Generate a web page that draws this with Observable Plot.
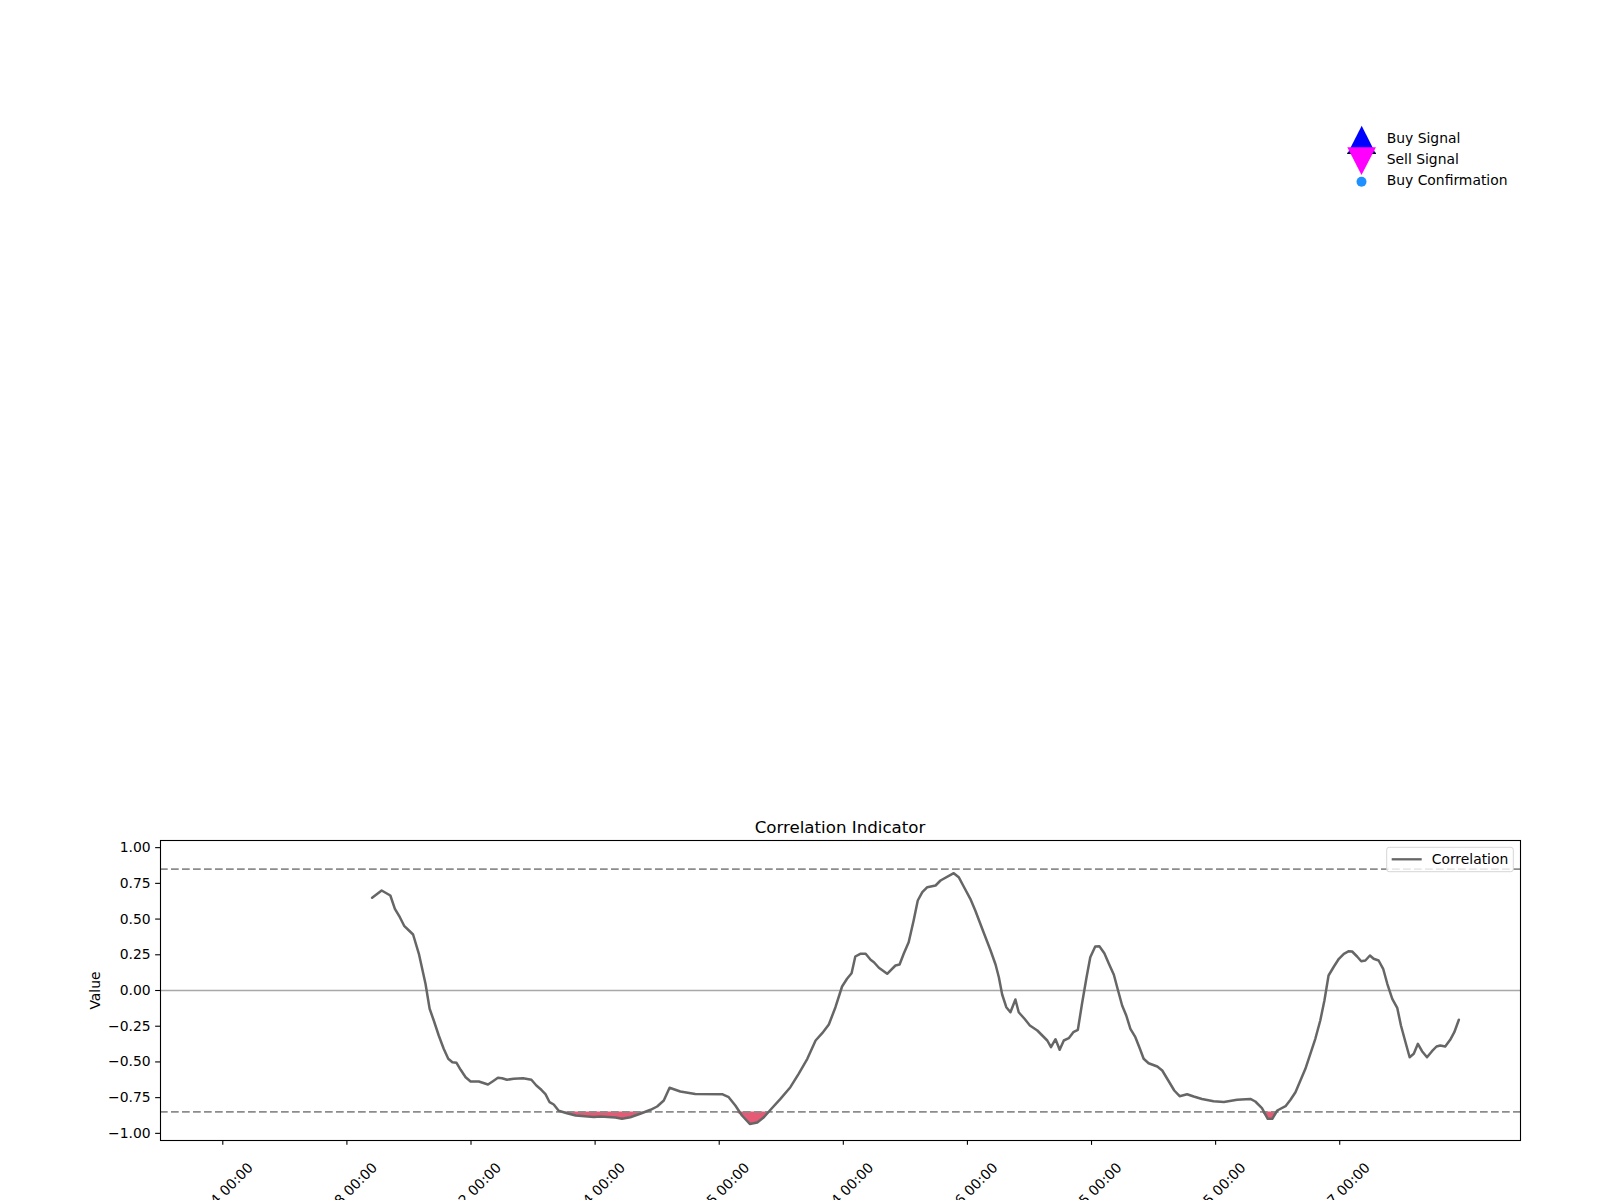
<!DOCTYPE html>
<html>
<head>
<meta charset="utf-8">
<script src="https://cdn.jsdelivr.net/npm/d3@7"></script>
<script src="https://cdn.jsdelivr.net/npm/@observablehq/plot@0.6"></script>
<style>
  html, body { margin: 0; padding: 0; overflow: hidden; background: white; }
  #fig { position: relative; width: 1600px; height: 1200px; overflow: hidden; background: white; font-family: "DejaVu Sans", sans-serif; }
  #chart { position: absolute; left: 0; top: 800px; width: 1600px; height: 400px; overflow: hidden; }
  #title { position: absolute; left: 0; width: 1680px; top: 817.5px; text-align: center; font-size: 16.67px; line-height: 20px; color: black; }
  #overlay { position: absolute; left: 0; top: 0; pointer-events: none; }
</style>
</head>
<body>
<div id="fig">
  <div id="chart"></div>
  <div id="title">Correlation Indicator</div>
  <svg id="overlay" width="1600" height="1200"></svg>
</div>
<script>
// ---- data ----
const barIndex = [
  36.1, 38.4, 40.5, 41.6, 42.8, 43.9, 45.0, 46.0, 47.4, 49.0, 50.0, 51.0, 52.2, 53.4, 54.5, 55.5, 56.5, 57.5, 58.7, 59.9,
  61.9, 64.1, 65.3, 66.5, 67.5, 68.7, 70.3, 72.6, 74.6, 75.8, 77.0, 78.0, 79.0, 80.0, 81.2, 83.2, 85.3, 89.7, 91.3, 94.9,
  96.5, 98.5, 100.9, 103.4, 105.0, 106.6, 108.0, 110.6, 114.2, 120.7, 122.3, 123.9, 125.5, 127.4, 129.2, 130.8, 132.4, 134.8, 137.2, 139.2,
  141.3, 143.3, 144.9, 146.5, 148.1, 149.7, 150.9, 152.0, 152.9, 154.1, 155.4, 156.6, 157.4, 158.6, 160.6, 162.6, 163.6, 164.6, 165.8, 167.0,
  168.0, 169.1, 170.3, 172.3, 173.5, 176.7, 177.9, 179.1, 180.7, 181.9, 183.9, 185.6, 186.8, 187.6, 188.4, 189.4, 190.4, 191.6, 192.4, 193.8,
  195.1, 196.9, 198.1, 199.3, 200.2, 201.3, 202.3, 203.3, 204.5, 205.6, 206.7, 207.7, 208.8, 209.7, 210.9, 211.9, 213.1, 214.2, 215.4, 216.3,
  217.4, 218.4, 219.4, 220.6, 221.7, 222.6, 223.8, 225.9, 227.1, 228.7, 230.0, 231.3, 233.1, 234.7, 236.7, 239.5, 242.0, 245.2, 248.4, 249.6,
  251.2, 252.6, 253.7, 254.9, 256.9, 258.1, 259.3, 260.5, 261.7, 262.9, 264.1, 265.3, 266.3, 267.3, 268.6, 269.8, 271.0, 272.2, 273.0, 274.2,
  275.2, 276.2, 277.3, 278.2, 279.4, 280.5, 281.5, 282.7, 283.9, 284.8, 285.9, 286.9, 287.9, 288.9, 289.9, 291.1, 292.3, 293.4, 294.3, 295.5,
  296.7, 297.7, 298.8
];
const correlation = [
  0.649, 0.70, 0.665, 0.572, 0.513, 0.45, 0.42, 0.392, 0.257, 0.047, -0.128, -0.21, -0.315, -0.408, -0.478, -0.502, -0.506, -0.555, -0.607, -0.637,
  -0.637, -0.658, -0.635, -0.611, -0.614, -0.625, -0.618, -0.614, -0.625, -0.665, -0.695, -0.725, -0.782, -0.798, -0.842, -0.859, -0.875, -0.885, -0.882, -0.889,
  -0.898, -0.887, -0.863, -0.835, -0.812, -0.77, -0.681, -0.707, -0.724, -0.726, -0.747, -0.805, -0.875, -0.934, -0.924, -0.887, -0.835, -0.759, -0.677, -0.583,
  -0.478, -0.35, -0.299, -0.238, -0.117, 0.028, 0.082, 0.121, 0.238, 0.257, 0.257, 0.215, 0.198, 0.159, 0.117, 0.175, 0.182, 0.257, 0.338, 0.49,
  0.63, 0.688, 0.723, 0.735, 0.77, 0.821, 0.793, 0.728, 0.642, 0.56, 0.408, 0.28, 0.182, 0.093, -0.028, -0.117, -0.152, -0.063, -0.152, -0.198,
  -0.245, -0.28, -0.315, -0.35, -0.397, -0.341, -0.415, -0.35, -0.334, -0.292, -0.275, -0.093, 0.093, 0.233, 0.308, 0.31, 0.261, 0.187, 0.11, 0.012,
  -0.105, -0.175, -0.268, -0.327, -0.408, -0.478, -0.509, -0.532, -0.56, -0.637, -0.70, -0.74, -0.726, -0.742, -0.759, -0.775, -0.78, -0.765, -0.759, -0.777,
  -0.824, -0.898, -0.898, -0.84, -0.81, -0.765, -0.712, -0.63, -0.548, -0.443, -0.338, -0.21, -0.07, 0.105, 0.168, 0.222, 0.257, 0.275, 0.273, 0.238,
  0.205, 0.21, 0.245, 0.222, 0.21, 0.152, 0.047, -0.058, -0.121, -0.245, -0.362, -0.467, -0.443, -0.373, -0.425, -0.467, -0.425, -0.392, -0.385, -0.392,
  -0.345, -0.292, -0.205
];
const upperThreshold = 0.85;
const lowerThreshold = -0.85;
const xTickIndex = [0, 30, 60, 90, 120, 150, 180, 210, 240, 270];
const xTickLabels = [
  "2024-01-04 00:00", "2024-01-08 00:00", "2024-01-12 00:00", "2024-01-14 00:00", "2024-01-15 00:00",
  "2024-01-24 00:00", "2024-01-26 00:00", "2024-02-05 00:00", "2024-02-15 00:00", "2024-02-17 00:00"
];
const yTicks = [-1, -0.75, -0.5, -0.25, 0, 0.25, 0.5, 0.75, 1];
const legendLabels = ["Buy Signal", "Sell Signal", "Buy Confirmation"];

// ---- build table ----
const rows = barIndex.map((x, i) => ({x, v: correlation[i]}));
const fmt = d => d.toFixed(2).replace("-", "\u2212");

const chart = Plot.plot({
  width: 1600,
  height: 400,
  marginLeft: 160,
  marginRight: 80,
  marginTop: 40,
  marginBottom: 60,
  x: {domain: [-15.06, 313.7], axis: null},
  y: {domain: [-1.05, 1.05], axis: null},
  style: {fontFamily: "DejaVu Sans", fontSize: "13.9px", background: "white", color: "black", overflow: "hidden"},
  marks: [
    Plot.areaY(rows, {x: "x", y1: lowerThreshold, y2: d => Math.min(d.v, lowerThreshold), fill: "crimson", fillOpacity: 0.7}),
    Plot.ruleY([0], {stroke: "#a8a8a8", strokeWidth: 1.5}),
    Plot.ruleY([upperThreshold, lowerThreshold], {stroke: "#8c8c8c", strokeWidth: 1.7, strokeDasharray: "7.7,3.3"}),
    Plot.lineY(rows, {x: "x", y: "v", stroke: "#666666", strokeWidth: 2.5, strokeLinejoin: "round"}),
    Plot.frame({stroke: "black", strokeWidth: 1.1}),
    Plot.axisY(yTicks, {tickSize: 4.86, tickPadding: 5, tickFormat: fmt, label: null, strokeWidth: 1.1}),
    Plot.axisX(xTickIndex, {tickSize: 4.86, tickFormat: () => "", label: null, strokeWidth: 1.1}),
    Plot.text(xTickIndex, {x: d => d, text: (d, i) => xTickLabels[i], frameAnchor: "bottom", rotate: -45, textAnchor: "end", lineAnchor: "bottom", dx: 31, dy: 28, fontSize: 13.9}),
    Plot.text(["Value"], {frameAnchor: "left", rotate: -90, textAnchor: "middle", lineAnchor: "bottom", dx: -60.5, fontSize: 13.9})
  ]
});
document.getElementById("chart").appendChild(chart);

// ---- legends (overlay) ----
const ov = d3.select("#overlay");
// figure legend (top right)
ov.append("polygon").attr("points", "1361.7,125.7 1347.3,154 1375.9,154").attr("fill", "blue");
ov.append("line").attr("x1", 1347.3).attr("x2", 1375.9).attr("y1", 153.3).attr("y2", 153.3).attr("stroke", "black").attr("stroke-width", 1.4);
ov.append("polygon").attr("points", "1347.3,147.3 1375.9,147.3 1361.5,175").attr("fill", "magenta");
ov.append("circle").attr("cx", 1361.5).attr("cy", 181.7).attr("r", 5).attr("fill", "#1e90ff");
[143.3, 164.1, 184.9].forEach((y, i) => {
  ov.append("text").attr("x", 1386.7).attr("y", y).attr("font-family", "DejaVu Sans").attr("font-size", "13.9px").attr("fill", "black").text(legendLabels[i]);
});
// axes legend (Correlation)
ov.append("rect").attr("x", 1386.7).attr("y", 847.3).attr("width", 126.6).attr("height", 24.4).attr("rx", 2.5)
  .attr("fill", "white").attr("fill-opacity", 0.8).attr("stroke", "#d6d6d6").attr("stroke-width", 1);
ov.append("line").attr("x1", 1391.7).attr("x2", 1421.7).attr("y1", 859.3).attr("y2", 859.3).attr("stroke", "#666666").attr("stroke-width", 2.3);
ov.append("text").attr("x", 1431.7).attr("y", 864.2).attr("font-family", "DejaVu Sans").attr("font-size", "13.9px").attr("fill", "black").text("Correlation");
</script>
</body>
</html>
